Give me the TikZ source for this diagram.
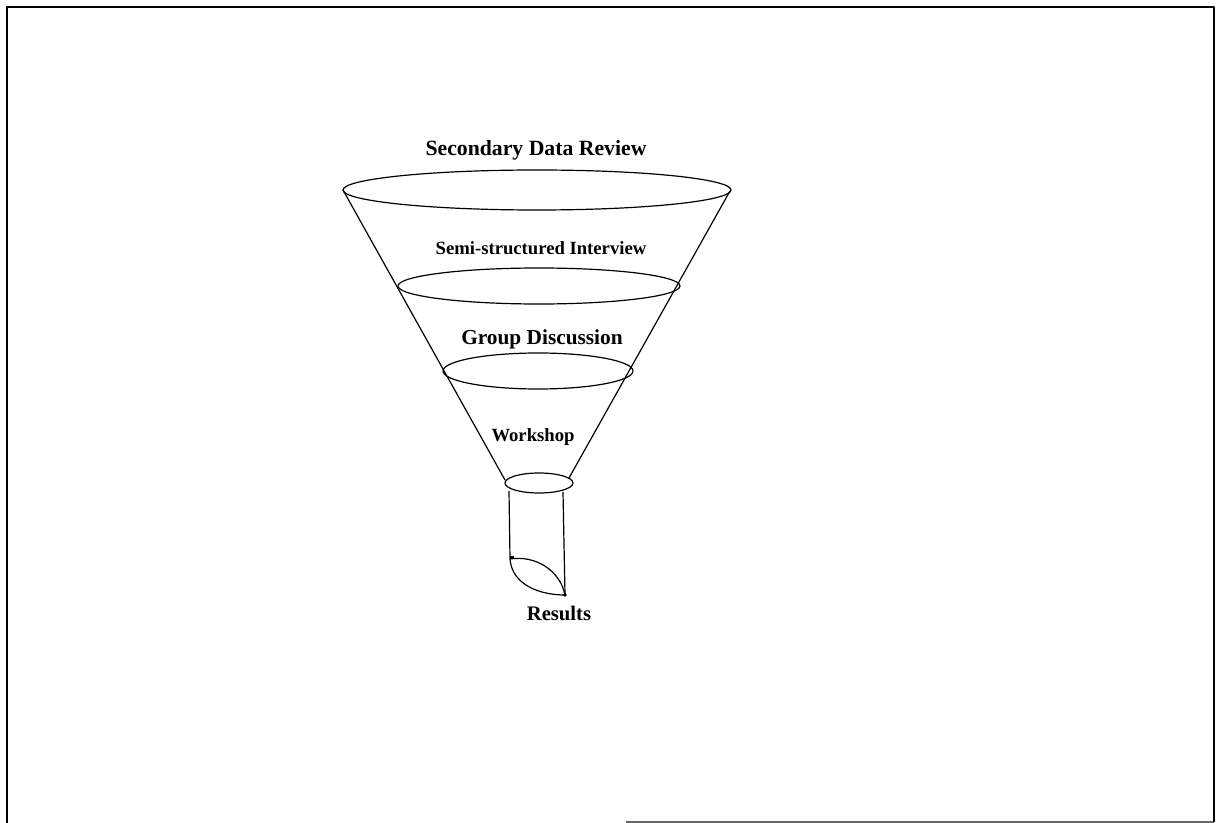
\documentclass[tikz,border=0pt]{standalone}
\usepackage{fontspec}
\setmainfont{Liberation Serif}
\begin{document}
\begin{tikzpicture}[x=0.75pt,y=-0.75pt,
  line join=round,
  frame/.style={line width=2pt},
  funnel/.style={line width=0.9pt},
  lbl/.style={font=\bfseries\fontsize{14}{16}\selectfont, inner sep=0pt}]
\useasboundingbox (0,0) rectangle (1221,823);
% frame
\coordinate (fbl) at (626,822);
\coordinate (fbr) at (1214,822);
\coordinate (ftr) at (1214,7);
\coordinate (ftl) at (7,7);
\coordinate (fbl2) at (7,823);
\draw[line width=1.2pt, black!60] (fbl) -- (fbr);
\draw[frame] (fbr) -- (ftr) -- (ftl) -- (fbl2);
% ellipses
\draw[funnel] (537,190) ellipse [x radius=194, y radius=20];
\draw[funnel] (539,286) ellipse [x radius=141, y radius=18];
\draw[funnel] (538,371) ellipse [x radius=95, y radius=18];
\draw[funnel] (539,483) ellipse [x radius=34, y radius=10];
% funnel sides
\coordinate (tl) at (343,190);
\coordinate (tr) at (730,191);
\coordinate (bl) at (505,480);
\coordinate (br) at (569,478);
\draw[funnel] (tl) -- (bl);
\draw[funnel] (tr) -- (br);
% spout
\coordinate (sl) at (509,491);
\coordinate (sr) at (563,492);
\coordinate (cl) at (510,559);
\coordinate (cr) at (565,595);
\draw[funnel] (sl) -- (cl);
\draw[funnel] (sr) -- (cr);
\draw[funnel] (cl) .. controls (535,555) and (560,570) .. (cr);
\draw[funnel] (cl) .. controls (512,585) and (540,595) .. (cr);
\fill (cl) rectangle ++(4,-3);
\fill (cr) circle (1.8);
% labels
\node[lbl, font=\bfseries\fontsize{16.3}{18}\selectfont] (sdr) at (536,150) {Secondary Data Review};
\node[lbl, font=\bfseries\fontsize{14}{16}\selectfont] (ssi) at (541,248) {Semi-structured Interview};
\node[lbl, font=\bfseries\fontsize{16}{18}\selectfont] (gd) at (542,339) {Group Discussion};
\node[lbl] (ws) at (533,437) {Workshop};
\node[lbl, font=\bfseries\fontsize{15.5}{17}\selectfont] (res) at (559,613) {Results};
\end{tikzpicture}
\end{document}
